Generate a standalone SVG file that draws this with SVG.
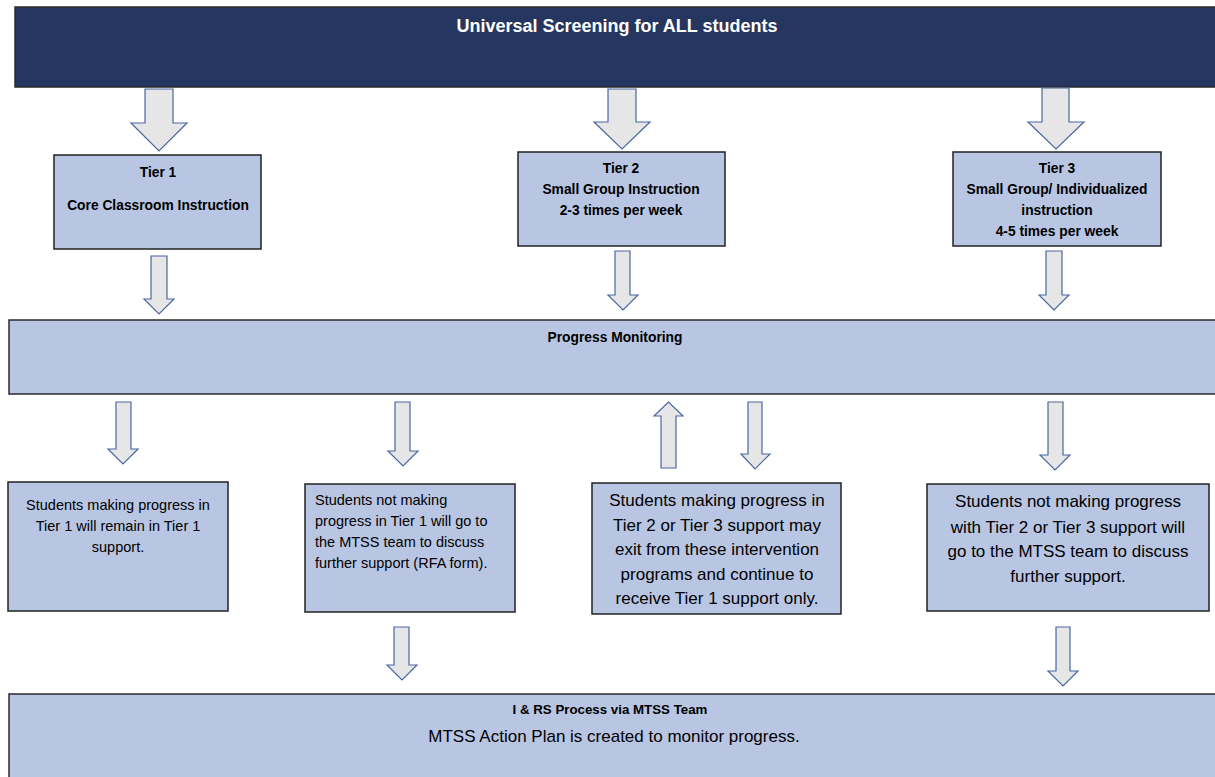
<svg xmlns="http://www.w3.org/2000/svg" width="1215" height="777" viewBox="0 0 1215 777">
<style>
.bar{fill:#b8c6e3;stroke:#2b2b2b;stroke-width:1.5}
.box{fill:#b8c6e3;stroke:#222;stroke-width:1.5}
.arr{fill:#e6e6e6;stroke:#4a67a3;stroke-width:1.2;stroke-linejoin:miter}
.t{font-family:"Liberation Sans",Arial,sans-serif;fill:#000}
.b{font-weight:bold}
.c{text-anchor:middle}
.s14{font-size:13.8px}
.s145{font-size:14.5px}
.s17{font-size:17px}
</style>
<rect width="1215" height="777" fill="#ffffff"/>
<g id="universal-screening">
<rect x="15" y="7" width="1210" height="80" fill="#253761" stroke="#2b2b2b" stroke-width="1.5"/>
<text class="t b c" x="617" y="32" font-size="18" style="fill:#ffffff">Universal Screening for ALL students</text>
</g>
<g id="tier1">
<rect class="box" x="54" y="155" width="207" height="94"/>
<text class="t b c s14" x="158" y="177">Tier 1</text>
<text class="t b c s14" x="158" y="210">Core Classroom Instruction</text>
</g>
<g id="tier2">
<rect class="box" x="518" y="152" width="207" height="94"/>
<text class="t b c s14" x="621" y="173">Tier 2</text>
<text class="t b c s14" x="621" y="194">Small Group Instruction</text>
<text class="t b c s14" x="621" y="215">2-3 times per week</text>
</g>
<g id="tier3">
<rect class="box" x="953" y="152" width="208" height="94"/>
<text class="t b c s14" x="1057" y="173">Tier 3</text>
<text class="t b c s14" x="1057" y="194">Small Group/ Individualized</text>
<text class="t b c s14" x="1057" y="215">instruction</text>
<text class="t b c s14" x="1057" y="236">4-5 times per week</text>
</g>
<g id="progress-monitoring">
<rect class="bar" x="9" y="320" width="1215" height="74"/>
<text class="t b c s14" x="615" y="342">Progress Monitoring</text>
</g>
<g id="tier1-progress">
<rect class="box" x="8" y="482" width="220" height="129"/>
<text class="t c s145" x="118" y="510">Students making progress in</text>
<text class="t c s145" x="118" y="531">Tier 1 will remain in Tier 1</text>
<text class="t c s145" x="118" y="552">support.</text>
</g>
<g id="tier1-no-progress">
<rect class="box" x="305" y="484" width="210" height="128"/>
<text class="t s145" x="315" y="505">Students not making</text>
<text class="t s145" x="315" y="526">progress in Tier 1 will go to</text>
<text class="t s145" x="315" y="547">the MTSS team to discuss</text>
<text class="t s145" x="315" y="568">further support (RFA form).</text>
</g>
<g id="tier23-progress">
<rect class="box" x="592" y="483" width="249" height="131"/>
<text class="t c s17" x="717" y="506">Students making progress in</text>
<text class="t c s17" x="717" y="531">Tier 2 or Tier 3 support may</text>
<text class="t c s17" x="717" y="555">exit from these intervention</text>
<text class="t c s17" x="717" y="580">programs and continue to</text>
<text class="t c s17" x="717" y="604">receive Tier 1 support only.</text>
</g>
<g id="tier23-no-progress">
<rect class="box" x="927" y="484" width="282" height="127"/>
<text class="t c s17" x="1068" y="507">Students not making progress</text>
<text class="t c s17" x="1068" y="533">with Tier 2 or Tier 3 support will</text>
<text class="t c s17" x="1068" y="557">go to the MTSS team to discuss</text>
<text class="t c s17" x="1068" y="582">further support.</text>
</g>
<g id="irs-process">
<rect class="bar" x="9" y="694" width="1215" height="100"/>
<text class="t b c" x="610" y="714" font-size="13.3">I &amp; RS Process via MTSS Team</text>
<text class="t c s17" x="614" y="742">MTSS Action Plan is created to monitor progress.</text>
</g>
<g id="connectors">
<path class="arr" d="M145 89H173V123H187L159 151L131 123H145Z"/>
<path class="arr" d="M608 89H636V122H650L622 149L594 122H608Z"/>
<path class="arr" d="M1042 88H1069V122H1084L1056 149L1028 122H1042Z"/>
<path class="arr" d="M151 256H167V299H174L159 314L144 299H151Z"/>
<path class="arr" d="M615 251H630V295H638L623 310L608 295H615Z"/>
<path class="arr" d="M1046 251H1062V295H1069L1054 310L1039 295H1046Z"/>
<path class="arr" d="M116 402H131V449H138L123 464L108 449H116Z"/>
<path class="arr" d="M395 402H410V451H418L403 466L388 451H395Z"/>
<path class="arr" d="M661 468V416H654L668.5 402L683 416H676V468Z"/>
<path class="arr" d="M748 402H762V454H770L755 469L741 454H748Z"/>
<path class="arr" d="M1048 402H1063V455H1070L1055 470L1040 455H1048Z"/>
<path class="arr" d="M394 627H409V665H417L402 680L387 665H394Z"/>
<path class="arr" d="M1056 627H1070V671H1078L1063 686L1048 671H1056Z"/>
</g>
</svg>
